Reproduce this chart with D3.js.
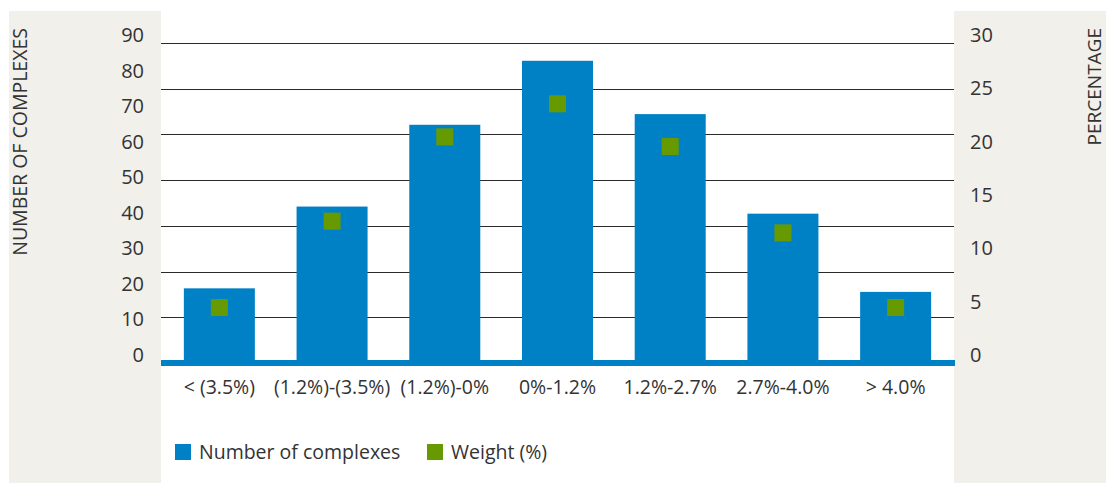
<!DOCTYPE html>
<html>
<head>
<meta charset="utf-8">
<script src="https://cdn.jsdelivr.net/npm/d3@7/dist/d3.min.js"></script>
<style>
  html, body { margin: 0; padding: 0; background: #ffffff; }
  svg { display: block; }
  text { font-family: "Open Sans", "Noto Sans", sans-serif; fill: #333333; }
</style>
</head>
<body>
<svg id="chart" width="1106" height="483"></svg>
<script>
// Yield buckets and the two series
const categories = ["< (3.5%)", "(1.2%)-(3.5%)", "(1.2%)-0%", "0%-1.2%", "1.2%-2.7%", "2.7%-4.0%", "> 4.0%"];
const complexes = [21, 44, 67, 85, 70, 42, 20];
const weights = [5.2, 13.3, 21.2, 24.3, 20.3, 12.2, 5.2];
const leftTicks = [0, 10, 20, 30, 40, 50, 60, 70, 80, 90];
const rightTicks = [0, 5, 10, 15, 20, 25, 30];
const gridSteps = [1, 2, 3, 4, 5, 6, 7];
const seriesNames = ["Number of complexes", "Weight (%)"];

const W = 1106, H = 483;
const plotLeft = 161, plotRight = 954;
const blue = "#0081c6", green = "#679a00", panel = "#f1f0ea";

const svg = d3.select("#chart");

// side panels
svg.append("rect").attr("x", 9).attr("y", 11).attr("width", plotLeft - 9).attr("height", H - 11).attr("fill", panel);
svg.append("rect").attr("x", plotRight).attr("y", 11).attr("width", W - plotRight).attr("height", H - 11).attr("fill", panel);

const x = d3.scaleBand().domain(categories).range([163, 952]).paddingInner(0.37).paddingOuter(0.185);
const yL = d3.scaleLinear().domain([0, 90]).range([363, 43]);
const yR = d3.scaleLinear().domain([0, 30]).range([363, 43]);
const yG = d3.scaleLinear().domain([0, 7]).range([363, 43]);

// horizontal gridlines (seven even bands above the baseline)
svg.append("g").selectAll("line").data(gridSteps).join("line")
  .attr("x1", plotLeft).attr("x2", plotRight)
  .attr("y1", d => Math.round(yG(d)) + 0.5).attr("y2", d => Math.round(yG(d)) + 0.5)
  .attr("stroke", "#2a2a2a").attr("stroke-width", 1);

// bars
svg.append("g").selectAll("rect").data(complexes).join("rect")
  .attr("x", (d, i) => x(categories[i]))
  .attr("width", x.bandwidth())
  .attr("y", d => yL(d))
  .attr("height", d => yL(0) - yL(d))
  .attr("fill", blue);

// baseline
svg.append("rect").attr("x", plotLeft).attr("width", plotRight - plotLeft + 1)
  .attr("y", yL(0) - 3).attr("height", 6).attr("fill", blue);

// weight markers
const m = 17;
svg.append("g").selectAll("rect").data(weights).join("rect")
  .attr("x", (d, i) => x(categories[i]) + x.bandwidth() / 2 - m / 2)
  .attr("y", d => yR(d) - m / 2)
  .attr("width", m).attr("height", m)
  .attr("fill", green);

// left axis labels
svg.append("g").selectAll("text").data(leftTicks).join("text")
  .attr("x", 144).attr("y", d => yL(d) - 1)
  .attr("text-anchor", "end").attr("font-size", 20)
  .text(d => d);

// right axis labels
svg.append("g").selectAll("text").data(rightTicks).join("text")
  .attr("x", 970).attr("y", d => yR(d) - 1)
  .attr("text-anchor", "start").attr("font-size", 20)
  .text(d => d);

// category labels
svg.append("g").selectAll("text").data(categories).join("text")
  .attr("x", d => x(d) + x.bandwidth() / 2).attr("y", 394)
  .attr("text-anchor", "middle").attr("font-size", 19.5)
  .text(d => d);

// axis titles
svg.append("text").attr("transform", "translate(27,28) rotate(-90)")
  .attr("text-anchor", "end").attr("font-size", 19.5).text("NUMBER OF COMPLEXES");
svg.append("text").attr("transform", "translate(1101,28) rotate(-90)")
  .attr("text-anchor", "end").attr("font-size", 19).text("PERCENTAGE");

// legend
const legend = svg.append("g");
const items = [{ name: seriesNames[0], color: blue, x: 175 }, { name: seriesNames[1], color: green, x: 427 }];
items.forEach(it => {
  legend.append("rect").attr("x", it.x).attr("y", 444).attr("width", 16).attr("height", 16).attr("fill", it.color);
  legend.append("text").attr("x", it.x + 24).attr("y", 459).attr("font-size", 19.5).text(it.name);
});
</script>
</body>
</html>
